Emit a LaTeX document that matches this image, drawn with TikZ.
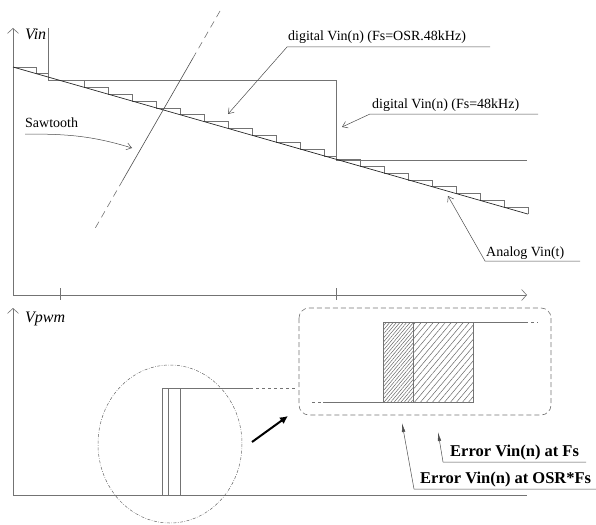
\documentclass[tikz,border=0pt]{standalone}
\usepackage{fontspec}
\setmainfont{Liberation Serif}
\usetikzlibrary{arrows.meta,calc,patterns.meta}
\definecolor{wirec}{gray}{0.45}
\tikzset{
  declare function={vin(\x)=67+0.2856*(\x-13);},
  wire/.style = {draw=wirec, line width=0.6pt},
  axis/.style = {wire, -{Straight Barb[length=5pt,width=11pt]}},
  lbl_n/.style = {inner sep=0pt, anchor=base west, font=\fontsize{14}{16}\selectfont},
  lbl_b/.style = {lbl_n, font=\fontsize{16.5}{18}\selectfont\bfseries},
  lbl_i/.style = {lbl_n, font=\fontsize{16}{18}\selectfont\itshape},
  lead_o/.style = {draw=black!70, line width=0.5pt, -{Straight Barb[length=5pt,width=7pt]}},
  lead_f/.style = {draw=black!70, line width=0.5pt, -{Latex[length=9pt,width=3.5pt]}},
  hatch_d/.style = {pattern={Lines[angle=50,distance=2.6pt,line width=0.5pt]}, pattern color=black!60},
  hatch_s/.style = {pattern={Lines[angle=50,distance=4.6pt,line width=0.5pt]}, pattern color=black!60},
  saw_dash/.style = {wire, dash pattern=on 7pt off 5pt}
}
\begin{document}
\begin{tikzpicture}[x=1pt,y=-1pt]
\useasboundingbox (0,0) rectangle (596,524);
\coordinate (o1) at (13,295); \coordinate (y1) at (13,28); \coordinate (x1) at (527,295);
\coordinate (o2) at (13,495); \coordinate (y2) at (13,308); \coordinate (x2) at (527,495);
\draw[axis] (o1) -- (y1);
\draw[axis] (o1) -- (x1);
\draw[wire] (60,288) -- (60,300) (336,288) -- (336,300);
\node[lbl_i] (vin) at (25,40) {Vin};
\draw[wire] (48,28) |- (336,80) |- (527,160);
\foreach \a/\b in {13/36,36/48}
	\draw[wire] (\a,{vin(\a)}) -| (\b,{vin(\b)});
\foreach \a in {60,84,...,324,336,360,...,504}{
	\pgfmathtruncatemacro\b{\a==324 ? 336 : \a+24}
	\draw[wire] (\a,{vin(\a)}) -| (\b,{vin(\b)});
}
\draw[black!85, line width=0.7pt] (13,{vin(13)}) -- (528,{vin(528)});
\coordinate (st) at (220,11); \coordinate (sb) at (93,232);
\coordinate (s1) at ($(st)!0.21!(sb)$); \coordinate (s2) at ($(st)!0.765!(sb)$);
\draw[saw_dash] (st) -- (s1);
\draw[wire, draw=black!70] (s1) -- (s2);
\draw[saw_dash] (s2) -- (sb);
\node[lbl_n] (saw) at (25,128) {Sawtooth};
\coordinate (sawA) at (25,134); \coordinate (sawT) at (132,148);
\draw[lead_o] (sawA) to[out=0,in=163] (sawT);
\node[lbl_n] (osr) at (288,41) {digital Vin(n) (Fs=OSR.48kHz)};
\coordinate (osrE) at (490,47); \coordinate (osrA) at (287,47); \coordinate (osrT) at (228,114);
\draw[lead_o] (osrE) -- (osrA) -- (osrT);
\node[lbl_n] (fs) at (372,108) {digital Vin(n) (Fs=48kHz)};
\coordinate (fsE) at (538,114); \coordinate (fsA) at (370,114); \coordinate (fsT) at (342,127);
\draw[lead_o] (fsE) -- (fsA) -- (fsT);
\node[lbl_n] (ana) at (486,256) {Analog Vin(t)};
\coordinate (anaE) at (580,261); \coordinate (anaA) at (485,261); \coordinate (anaT) at (448,196);
\draw[lead_o] (anaE) -- (anaA) -- (anaT);

\draw[wire] (o2) -- (x2);
\draw[axis] (o2) -- (y2);
\node[lbl_i] (vpwm) at (25,322) {Vpwm};
\draw[wire] (162,495) |- (250,388);
\draw[wire] (168,495) -- (168,388) (180,495) -- (180,388);
\draw[wire, dashed] (250,388) -- (297,388);
\draw[draw=black!60, line width=0.5pt, dash pattern=on 3pt off 1.5pt on 0.6pt off 1.5pt] (170,444) ellipse [x radius=72, y radius=79];
\coordinate (zA) at (252,442); \coordinate (zT) at (288,416);
\draw[black, line width=2pt, -{Latex[length=8pt,width=8pt]}] (zA) -- (zT);
\draw[wire, dash pattern=on 5pt off 3pt, rounded corners=10pt] (299,308) rectangle (551,415);
\fill[hatch_d] (383,322) rectangle (413,402);
\fill[hatch_s] (413,322) rectangle (473,402);
\draw[wire] (323,402) -| (383,322) -- (525,322);
\draw[wire] (383,402) -| (473,322) (413,322) -- (413,402);
\draw[wire, dashed] (312,402) -- (323,402) (525,322) -- (538,322);
\node[lbl_b] (efs) at (450,456) {Error Vin(n) at Fs};
\coordinate (efsE) at (586,462); \coordinate (efsA) at (443,462); \coordinate (efsT) at (438,432);
\draw[lead_f] (efsE) -- (efsA) -- (efsT);
\node[lbl_b] (eosr) at (420,483) {Error Vin(n) at OSR*Fs};
\coordinate (eosrE) at (596,489); \coordinate (eosrA) at (414,489); \coordinate (eosrT) at (402,423);
\draw[lead_f] (eosrE) -- (eosrA) -- (eosrT);
\end{tikzpicture}
\end{document}
